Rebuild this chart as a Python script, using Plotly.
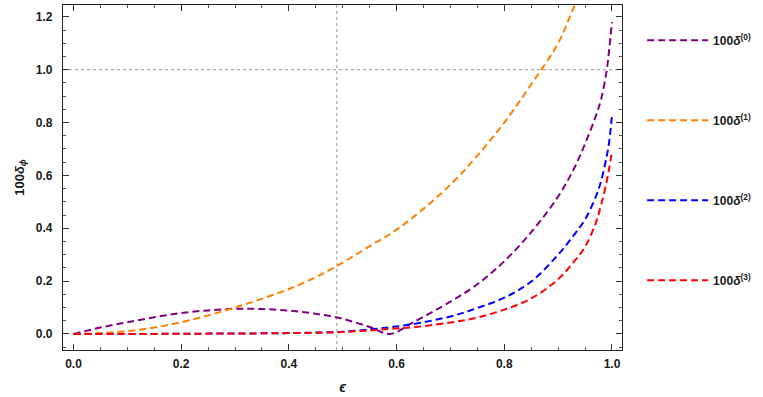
import plotly.graph_objects as go

eps = [0, 0.05, 0.1, 0.15, 0.2, 0.25, 0.3, 0.35, 0.4, 0.45, 0.5, 0.55, 0.588,
       0.63, 0.7, 0.75, 0.8, 0.85, 0.9, 0.93, 0.95, 0.97, 0.98, 0.99, 0.995, 1.0]

delta0 = [0, 0.024, 0.044, 0.063, 0.079, 0.089, 0.095, 0.094, 0.088, 0.076, 0.057,
          0.026, 0.0, 0.043, 0.122, 0.188, 0.275, 0.385, 0.52, 0.628, 0.72, 0.825,
          0.89, 0.995, 1.08, 1.18]
delta1 = [0, 0.003, 0.01, 0.024, 0.044, 0.07, 0.1, 0.133, 0.17, 0.215, 0.27,
          0.332, 0.378, 0.44, 0.565, 0.675, 0.80, 0.945, 1.1, 1.24, 1.32,
          None, None, None, None, None]
delta2 = [0, 0.0, 0.0, 0.0, 0.0005, 0.001, 0.0015, 0.002, 0.003, 0.005, 0.008,
          0.017, 0.025, 0.037, 0.066, 0.098, 0.137, 0.198, 0.3, 0.376, 0.433,
          0.52, 0.58, 0.67, 0.73, 0.83]
delta3 = [0, 0.0, 0.0, 0.0, 0.0005, 0.001, 0.0015, 0.002, 0.003, 0.004, 0.007,
          0.013, 0.019, 0.025, 0.043, 0.062, 0.092, 0.134, 0.207, 0.275, 0.33,
          0.42, 0.49, 0.575, 0.63, 0.69]

names = ["100<i>δ</i><sup>(0)</sup>", "100<i>δ</i><sup>(1)</sup>",
         "100<i>δ</i><sup>(2)</sup>", "100<i>δ</i><sup>(3)</sup>"]
colors = ["#800080", "#FF8000", "#0000FF", "#FF0000"]
series = [delta0, delta1, delta2, delta3]

grid_x = 0.489
grid_y = 1.0

fig = go.Figure()
for i, (ys, nm, c) in enumerate(zip(series, names, colors)):
    fig.add_trace(go.Scatter(
        x=eps, y=ys, mode="lines", name=nm, legendgroup=str(i),
        line=dict(color=c, width=2, dash="7px,4px", shape="spline", smoothing=1.0),
        connectgaps=False,
    ))

fig.add_shape(type="line", xref="x", yref="paper", x0=grid_x, x1=grid_x, y0=0, y1=1,
              line=dict(color="#999999", width=1, dash="dot"), layer="below")
fig.add_shape(type="line", xref="paper", yref="y", x0=0, x1=1, y0=grid_y, y1=grid_y,
              line=dict(color="#999999", width=1, dash="dot"), layer="below")

tickfont = dict(family="Liberation Sans", size=12, color="#1a1a1a", weight="bold")

fig.update_xaxes(
    range=[-0.0195, 1.0186], tickvals=[0, 0.2, 0.4, 0.6, 0.8, 1.0],
    ticktext=["0.0", "0.2", "0.4", "0.6", "0.8", "1.0"],
    ticks="inside", ticklen=6, tickwidth=1, tickcolor="#333333",
    minor=dict(dtick=0.05, tick0=0, ticks="inside", ticklen=3, tickcolor="#555555"),
    showline=True, linecolor="#222222", linewidth=1.3, mirror="allticks",
    showgrid=False, zeroline=False, tickfont=tickfont, ticklabelstandoff=2,
    automargin=False,
    title=dict(text="<i>ϵ</i>", font=dict(family="Liberation Sans", size=14, color="#1a1a1a",
                                          weight="bold"),
               standoff=12),
)
fig.update_yaxes(
    range=[-0.061, 1.245], tickvals=[0, 0.2, 0.4, 0.6, 0.8, 1.0, 1.2],
    ticktext=["0.0", "0.2", "0.4", "0.6", "0.8", "1.0", "1.2"],
    ticks="inside", ticklen=6, tickwidth=1, tickcolor="#333333",
    minor=dict(dtick=0.05, tick0=0, ticks="inside", ticklen=3, tickcolor="#555555"),
    showline=True, linecolor="#222222", linewidth=1.3, mirror="allticks",
    showgrid=False, zeroline=False, tickfont=tickfont, ticklabelstandoff=7,
    automargin=False,
    title=dict(text="100<i>δ</i><sub><i>ϕ</i></sub>",
               font=dict(family="Liberation Sans", size=13, color="#1a1a1a", weight="bold"),
               standoff=8),
)

fig.update_layout(
    width=763, height=397,
    margin=dict(l=63, r=141, t=5, b=47),
    plot_bgcolor="white", paper_bgcolor="white",
    legend=dict(x=1.036, y=0.94, xanchor="left", yanchor="top",
                font=dict(family="Liberation Sans", size=12, color="#1a1a1a", weight="bold"),
                tracegroupgap=61, itemwidth=61, bgcolor="rgba(0,0,0,0)"),
)

fig.write_html("out.html", config={"displayModeBar": False},
               post_script="document.body.style.margin='0';document.body.style.overflow='hidden';")
